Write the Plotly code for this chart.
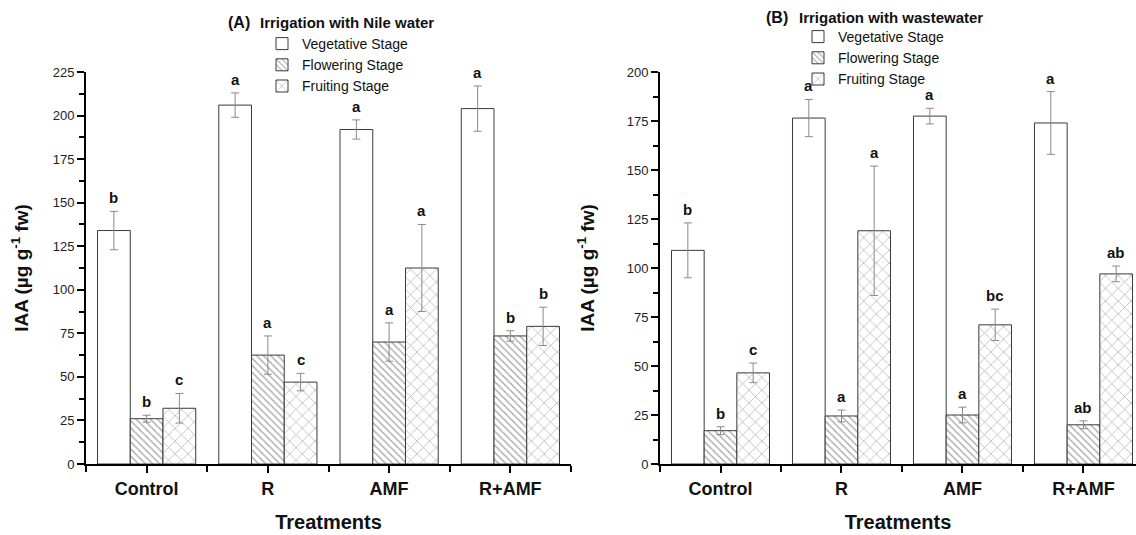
import plotly.graph_objects as go

# ---------------- data ----------------
treatments = ["Control", "R", "AMF", "R+AMF"]
stages = ["Vegetative Stage", "Flowering Stage", "Fruiting Stage"]

# Panel A: Irrigation with Nile water
nile_veg = [134, 206, 192, 204]
nile_veg_err = [11, 7, 5.5, 13]
nile_flw = [26, 62.5, 70, 73.5]
nile_flw_err = [2, 11, 11, 3]
nile_frt = [32, 47, 112.5, 79]
nile_frt_err = [8.5, 5, 25, 11]
nile_veg_lbl = ["b", "a", "a", "a"]
nile_flw_lbl = ["b", "a", "a", "b"]
nile_frt_lbl = ["c", "c", "a", "b"]

# Panel B: Irrigation with wastewater
waste_veg = [109, 176.5, 177.5, 174]
waste_veg_err = [14, 9.5, 4, 16]
waste_flw = [17, 24.5, 25, 20]
waste_flw_err = [2, 3, 4, 2]
waste_frt = [46.5, 119, 71, 97]
waste_frt_err = [5, 33, 8, 4]
waste_veg_lbl = ["b", "a", "a", "a"]
waste_flw_lbl = ["b", "a", "a", "ab"]
waste_frt_lbl = ["c", "a", "bc", "ab"]

yticks_a = [0, 25, 50, 75, 100, 125, 150, 175, 200, 225]
yticks_b = [0, 25, 50, 75, 100, 125, 150, 175, 200]

# ---------------- styling ----------------
W, H = 1136, 535
FONT = "Liberation Sans, Arial, sans-serif"
NARROW = "Liberation Sans Narrow, Liberation Sans, Arial, sans-serif"
BAR_LINE = dict(color="#3a3a3a", width=1)
ERR = dict(color="#8a8a8a", thickness=1, width=4)
patterns = [
    dict(shape="", bgcolor="white"),
    dict(shape="\\", size=5, solidity=0.28, fgcolor="#505050", bgcolor="white"),
    dict(shape="x", size=9, solidity=0.14, fgcolor="#505050", bgcolor="white"),
]
BARGAP = 0.19
bw = (1 - BARGAP) / 3

xpos = list(range(len(treatments)))

fig = go.Figure()

panels = [
    dict(vals=[nile_veg, nile_flw, nile_frt], errs=[nile_veg_err, nile_flw_err, nile_frt_err],
         lbls=[nile_veg_lbl, nile_flw_lbl, nile_frt_lbl], xa="x", ya="y", legend="legend"),
    dict(vals=[waste_veg, waste_flw, waste_frt], errs=[waste_veg_err, waste_flw_err, waste_frt_err],
         lbls=[waste_veg_lbl, waste_flw_lbl, waste_frt_lbl], xa="x2", ya="y2", legend="legend2"),
]

for p in panels:
    for k in range(3):
        fig.add_trace(go.Bar(
            x=xpos, y=p["vals"][k], name=stages[k],
            xaxis=p["xa"], yaxis=p["ya"], legend=p["legend"],
            offsetgroup=str(k),
            marker=dict(color="white", line=BAR_LINE, pattern=patterns[k]),
            error_y=dict(type="data", array=p["errs"][k], visible=True, **ERR),
        ))
        for i in xpos:
            fig.add_annotation(
                x=i + (k - 1) * bw, y=p["vals"][k][i] + p["errs"][k][i],
                xref=p["xa"], yref=p["ya"], text="<b>%s</b>" % p["lbls"][k][i],
                showarrow=False, yanchor="bottom", yshift=3,
                font=dict(family=FONT, size=15, color="#111"),
            )

# panel titles
fig.add_annotation(x=252 / W, y=1 - 22 / H, xref="paper", yref="paper", text="<b>(A)</b>",
                   showarrow=False, xanchor="right", yanchor="middle",
                   font=dict(family=FONT, size=16, color="#111"))
fig.add_annotation(x=258 / W, y=1 - 22 / H, xref="paper", yref="paper",
                   text="<b>Irrigation with Nile water</b>", showarrow=False,
                   xanchor="left", yanchor="middle", font=dict(family=NARROW, size=15, color="#111"))
fig.add_annotation(x=790 / W, y=1 - 17 / H, xref="paper", yref="paper", text="<b>(B)</b>",
                   showarrow=False, xanchor="right", yanchor="middle",
                   font=dict(family=FONT, size=16, color="#111"))
fig.add_annotation(x=797 / W, y=1 - 17 / H, xref="paper", yref="paper",
                   text="<b>Irrigation with wastewater</b>", showarrow=False,
                   xanchor="left", yanchor="middle", font=dict(family=NARROW, size=15, color="#111"))

ydom = [1 - 464 / H, 1 - 72 / H]

def xaxis(domain, rng, anchor):
    return dict(
        domain=domain, range=rng, anchor=anchor, automargin=False,
        tickmode="array", tickvals=xpos, ticktext=["<b>%s</b>" % t for t in treatments],
        tickfont=dict(family=FONT, size=18, color="#111"),
        showline=True, linecolor="black", linewidth=2, ticks="outside", ticklen=7,
        tickwidth=2, tickcolor="black", showgrid=False, zeroline=False,
        minor=dict(tickmode="array", tickvals=[-0.5, 0.5, 1.5, 2.5, 3.5], ticks="outside",
                   ticklen=6, tickwidth=2, tickcolor="black"),
        title=dict(text="<b>Treatments</b>", font=dict(family=FONT, size=20, color="#111"), standoff=17),
    )

def yaxis(ticks, top, anchor, standoff):
    return dict(
        domain=ydom, range=[0, top], anchor=anchor, automargin=False,
        tickmode="array", tickvals=ticks,
        tickfont=dict(family=FONT, size=13, color="#222"),
        showline=True, linecolor="black", linewidth=2, ticks="outside", ticklen=7,
        tickwidth=2, tickcolor="black", showgrid=False, zeroline=False,
        minor=dict(dtick=12.5, tick0=0, ticks="outside", ticklen=5, tickwidth=2, tickcolor="black"),
        title=dict(text="<b>IAA (µg g<sup>-1</sup> fw)</b>", font=dict(family=FONT, size=19, color="#111"),
                   standoff=standoff),
    )

fig.update_layout(
    width=W, height=H, margin=dict(l=0, r=0, t=0, b=0),
    paper_bgcolor="white", plot_bgcolor="white",
    barmode="group", bargap=BARGAP, bargroupgap=0,
    xaxis=xaxis([86 / W, 571 / W], [-0.5, 3.5], "y"),
    yaxis=yaxis(yticks_a, 225, "x", 19),
    xaxis2=xaxis([660 / W, 1.0], [-0.5, 3.434], "y2"),
    yaxis2=yaxis(yticks_b, 200, "x2", 27),
    legend=dict(x=262 / W, y=1 - 28 / H, xanchor="left", yanchor="top",
                font=dict(family=FONT, size=14, color="#111"), bgcolor="rgba(0,0,0,0)",
                tracegroupgap=0, itemclick=False),
    legend2=dict(x=798 / W, y=1 - 21 / H, xanchor="left", yanchor="top",
                 font=dict(family=FONT, size=14, color="#111"), bgcolor="rgba(0,0,0,0)",
                 tracegroupgap=0, itemclick=False),
    showlegend=True,
)

fig.write_html("out.html", config={"displayModeBar": False},
               post_script="document.body.style.margin='0';")
